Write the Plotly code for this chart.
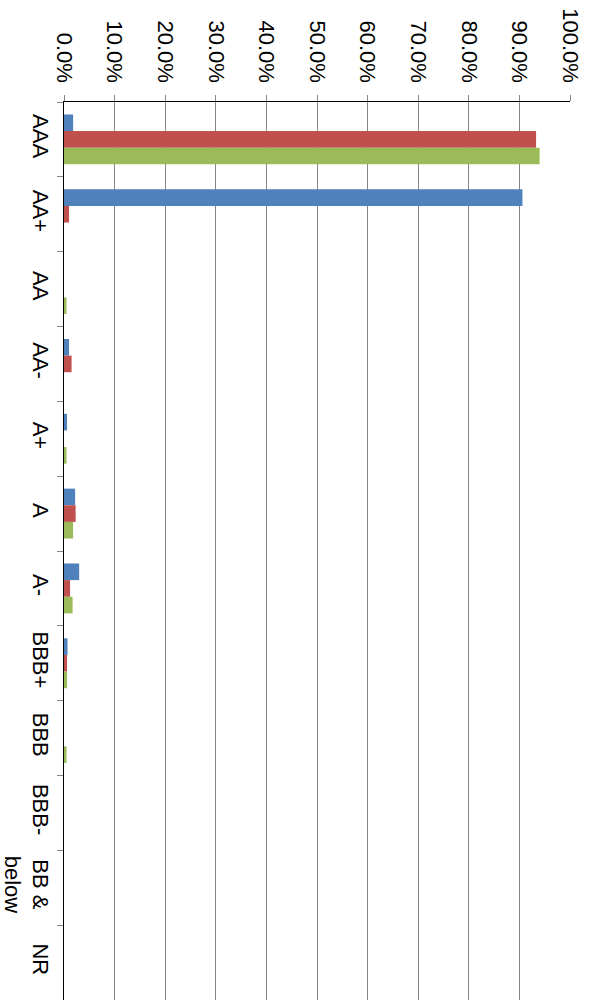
import plotly.graph_objects as go

categories = ["AAA", "AA+", "AA", "AA-", "A+", "A", "A-", "BBB+", "BBB", "BBB-", "BB &<br>below", "NR"]
series_1 = [0.018, 0.906, 0.0, 0.010, 0.006, 0.022, 0.030, 0.007, 0.0, 0.0, 0.0, 0.0]
series_2 = [0.933, 0.010, 0.0, 0.015, 0.0, 0.023, 0.012, 0.006, 0.0, 0.0, 0.0, 0.0]
series_3 = [0.940, 0.0, 0.005, 0.0, 0.005, 0.018, 0.017, 0.006, 0.005, 0.0, 0.0, 0.0]
series_names = ["Series 1", "Series 2", "Series 3"]
colors = ["#4F81BD", "#C0504D", "#9BBB59"]

fig = go.Figure()
for name, vals, col in zip(series_names, [series_1, series_2, series_3], colors):
    fig.add_trace(go.Bar(
        x=vals, y=categories, orientation="h", name=name,
        marker=dict(color=col, line=dict(width=0)),
    ))

font = dict(family="Liberation Sans, Arial, sans-serif", size=22, color="#000000")

fig.update_layout(
    width=592, height=1000,
    margin=dict(l=64, r=22, t=102, b=0, autoexpand=False),
    paper_bgcolor="white", plot_bgcolor="white",
    barmode="group", bargap=1/3, bargroupgap=0,
    showlegend=False,
    font=font,
    xaxis=dict(
        side="top", range=[0, 1], dtick=0.1, tickformat=".1%",
        tickangle=90, tickfont=font,
        showgrid=True, gridcolor="#868686", gridwidth=1,
        showline=True, linecolor="#000000", linewidth=1.5,
        ticks="outside", ticklen=6, tickcolor="#868686",
        ticklabelstandoff=4,
        zeroline=False, fixedrange=True,
    ),
    yaxis=dict(
        autorange="reversed", type="category",
        tickangle=90, tickfont=font,
        showgrid=False,
        showline=True, linecolor="#000000", linewidth=1.5,
        ticks="outside", ticklen=6, tickcolor="#868686", tickson="boundaries",
        ticklabelstandoff=3,
        zeroline=False, fixedrange=True,
    ),
)

fig.write_html(
    "out.html",
    config={"displayModeBar": False, "staticPlot": True},
    post_script="document.body.style.margin='0';document.body.style.overflow='hidden';",
)
